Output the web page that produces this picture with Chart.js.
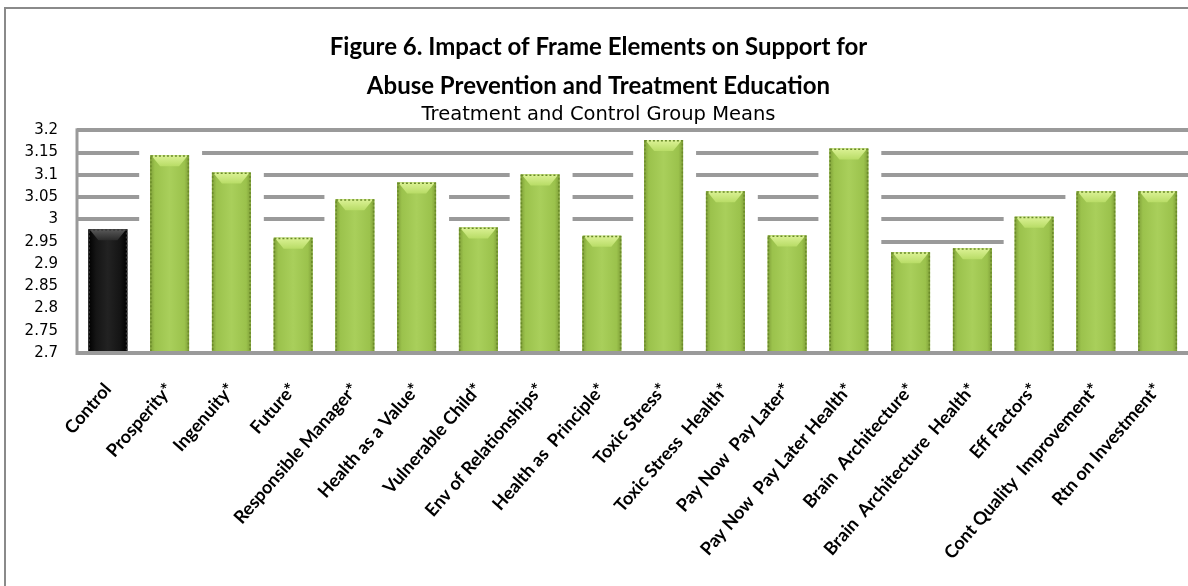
<!DOCTYPE html>
<html>
<head>
<meta charset="utf-8">
<script src="https://cdn.jsdelivr.net/npm/chart.js@4.4.1/dist/chart.umd.min.js"></script>
<style>
  html, body { margin: 0; padding: 0; background: #fff; overflow: hidden; width: 1188px; height: 586px; }
  #wrap { position: absolute; left: 0; top: 0; width: 1200px; height: 586px; }
</style>
</head>
<body>
<div id="wrap"><canvas id="c" width="1200" height="586"></canvas></div>
<script>
const categories = [
  'Control', 'Prosperity*', 'Ingenuity*', 'Future*', 'Responsible Manager*',
  'Health as a Value*', 'Vulnerable Child*', 'Env of Relationships*', 'Health as  Principle*',
  'Toxic Stress*', 'Toxic Stress  Health*', 'Pay Now  Pay Later*', 'Pay Now  Pay Later Health*',
  'Brain  Architecture*', 'Brain  Architecture  Health*', 'Eff Factors*',
  'Cont Quality  Improvement*', 'Rtn on Investment*'
];
const means = [
  2.978, 3.144, 3.105, 2.959, 3.045,
  3.083, 2.982, 3.101, 2.963,
  3.178, 3.063, 2.964, 3.159,
  2.926, 2.935, 3.006,
  3.063, 3.063
];
const yTickValues = [2.7, 2.75, 2.8, 2.85, 2.9, 2.95, 3.0, 3.05, 3.1, 3.15, 3.2];
const yTickLabels = ['2.7', '2.75', '2.8', '2.85', '2.9', '2.95', '3', '3.05', '3.1', '3.15', '3.2'];
const titleLines = ['Figure 6. Impact of Frame Elements on Support for', 'Abuse Prevention and Treatment Education'];
const subtitleText = 'Treatment and Control Group Means';

const GRID = '#9a9a9a';

const framePlugin = {
  id: 'frame',
  beforeDraw(chart) {
    const ctx = chart.ctx;
    ctx.save();
    ctx.fillStyle = '#fff';
    ctx.fillRect(0, 0, chart.width, chart.height);
    ctx.strokeStyle = '#8a8a8a';
    ctx.lineWidth = 2;
    ctx.beginPath();
    ctx.moveTo(5, chart.height + 5);
    ctx.lineTo(5, 8);
    ctx.lineTo(chart.width + 5, 8);
    ctx.stroke();
    ctx.restore();
  }
};

const gridPlugin = {
  id: 'backWallGrid',
  beforeDatasetsDraw(chart) {
    const ctx = chart.ctx, ys = chart.scales.y, ca = chart.chartArea;
    const meta = chart.getDatasetMeta(0);
    ctx.save();
    ctx.strokeStyle = GRID;
    ctx.lineWidth = 4;
    yTickValues.forEach((v, idx) => {
      if (idx === 0) return;
      const py = Math.round(ys.getPixelForValue(v));
      const spans = [];
      meta.data.forEach((bar, i) => {
        if (means[i] + 0.01 > v) {
          const w = bar.width;
          spans.push([bar.x - w / 2 - 11, bar.x + w / 2 + 13]);
        }
      });
      spans.sort((a, b) => a[0] - b[0]);
      let cur = ca.left;
      const seg = (a, b) => { if (b - a > 0.5) { ctx.beginPath(); ctx.moveTo(a, py); ctx.lineTo(b, py); ctx.stroke(); } };
      for (const [a, b] of spans) {
        if (a > cur) seg(cur, Math.min(a, ca.right));
        cur = Math.max(cur, b);
      }
      if (cur < ca.right) seg(cur, ca.right);
    });
    ctx.lineWidth = 3;
    ctx.beginPath();
    ctx.moveTo(ca.left, ca.top - 2);
    ctx.lineTo(ca.left, ca.bottom + 2);
    ctx.stroke();
    ctx.restore();
  },
  afterDatasetsDraw(chart) {
    const ctx = chart.ctx, ca = chart.chartArea;
    const meta = chart.getDatasetMeta(0);
    meta.data.forEach((bar, i) => {
      const w = bar.width, l = bar.x - w / 2, r = bar.x + w / 2, t = bar.y;
      const b = Math.min(bar.base, ca.bottom);
      const dark = i === 0;
      ctx.save();
      const g = ctx.createLinearGradient(l, 0, r, 0);
      if (dark) {
        g.addColorStop(0, '#000'); g.addColorStop(0.2, '#151515'); g.addColorStop(0.5, '#222');
        g.addColorStop(0.8, '#151515'); g.addColorStop(1, '#000');
      } else {
        g.addColorStop(0, '#7f9f38'); g.addColorStop(0.12, '#9bc24c'); g.addColorStop(0.5, '#a9cf5b');
        g.addColorStop(0.88, '#9bc24c'); g.addColorStop(1, '#7f9f38');
      }
      ctx.fillStyle = g;
      ctx.fillRect(l, t, w, b - t);
      const bh = 11, inset = 10;
      const tg = ctx.createLinearGradient(0, t, 0, t + bh);
      if (dark) { tg.addColorStop(0, '#5a5a5a'); tg.addColorStop(1, '#2a2a2a'); }
      else { tg.addColorStop(0, '#dcf296'); tg.addColorStop(1, '#b8dc66'); }
      ctx.fillStyle = tg;
      ctx.beginPath();
      ctx.moveTo(l + 1, t);
      ctx.lineTo(r - 1, t);
      ctx.lineTo(r - inset, t + bh);
      ctx.lineTo(l + inset, t + bh);
      ctx.closePath();
      ctx.fill();
      ctx.strokeStyle = dark ? '#3a3a3a' : '#6a8a2a';
      ctx.lineWidth = 1.5;
      ctx.setLineDash([2, 2]);
      ctx.strokeRect(l + 0.75, t + 0.75, w - 1.5, b - t - 1.5);
      ctx.restore();
    });
    ctx.save();
    ctx.strokeStyle = GRID;
    ctx.lineWidth = 4;
    ctx.beginPath();
    ctx.moveTo(ca.left - 1, Math.round(ca.bottom));
    ctx.lineTo(ca.right, Math.round(ca.bottom));
    ctx.stroke();
    ctx.restore();
  }
};

const barColors = means.map((v, i) => i === 0 ? '#111111' : '#a0c854');

new Chart(document.getElementById('c'), {
  type: 'bar',
  data: {
    labels: categories,
    datasets: [{
      data: means,
      backgroundColor: barColors,
      borderWidth: 0,
      barPercentage: 0.63,
      categoryPercentage: 1.0
    }]
  },
  options: {
    responsive: false,
    animation: false,
    devicePixelRatio: 1,
    layout: { padding: { top: 28, right: 3, left: 0, bottom: 0 } },
    plugins: {
      legend: { display: false },
      tooltip: { enabled: false },
      title: {
        display: true,
        text: titleLines,
        color: '#000',
        font: { family: 'Lato', size: 24, weight: 'bold', lineHeight: 1.62 },
        padding: { top: 0, bottom: 0 }
      },
      subtitle: {
        display: true,
        text: subtitleText,
        color: '#000',
        font: { family: 'DejaVu Sans', size: 19.5, weight: 'normal', lineHeight: 0.9 },
        padding: { top: 0, bottom: 7 }
      }
    },
    scales: {
      x: {
        grid: { display: false, drawTicks: false },
        border: { display: false },
        ticks: {
          color: '#000',
          font: { family: 'Lato', size: 18, weight: 'bold' },
          minRotation: 49,
          maxRotation: 49,
          autoSkip: false,
          padding: 26
        },
        afterFit(scale) { scale.height = 233; }
      },
      y: {
        min: 2.7,
        max: 3.2,
        grid: { display: false, drawTicks: false },
        border: { display: false },
        afterBuildTicks(scale) { scale.ticks = yTickValues.map(v => ({ value: v })); },
        ticks: {
          color: '#000',
          font: { family: 'DejaVu Sans', size: 15 },
          padding: 19,
          callback: (val, i) => yTickLabels[i]
        },
        afterFit(scale) { scale.width = 77; }
      }
    }
  },
  plugins: [framePlugin, gridPlugin]
});
</script>
</body>
</html>
